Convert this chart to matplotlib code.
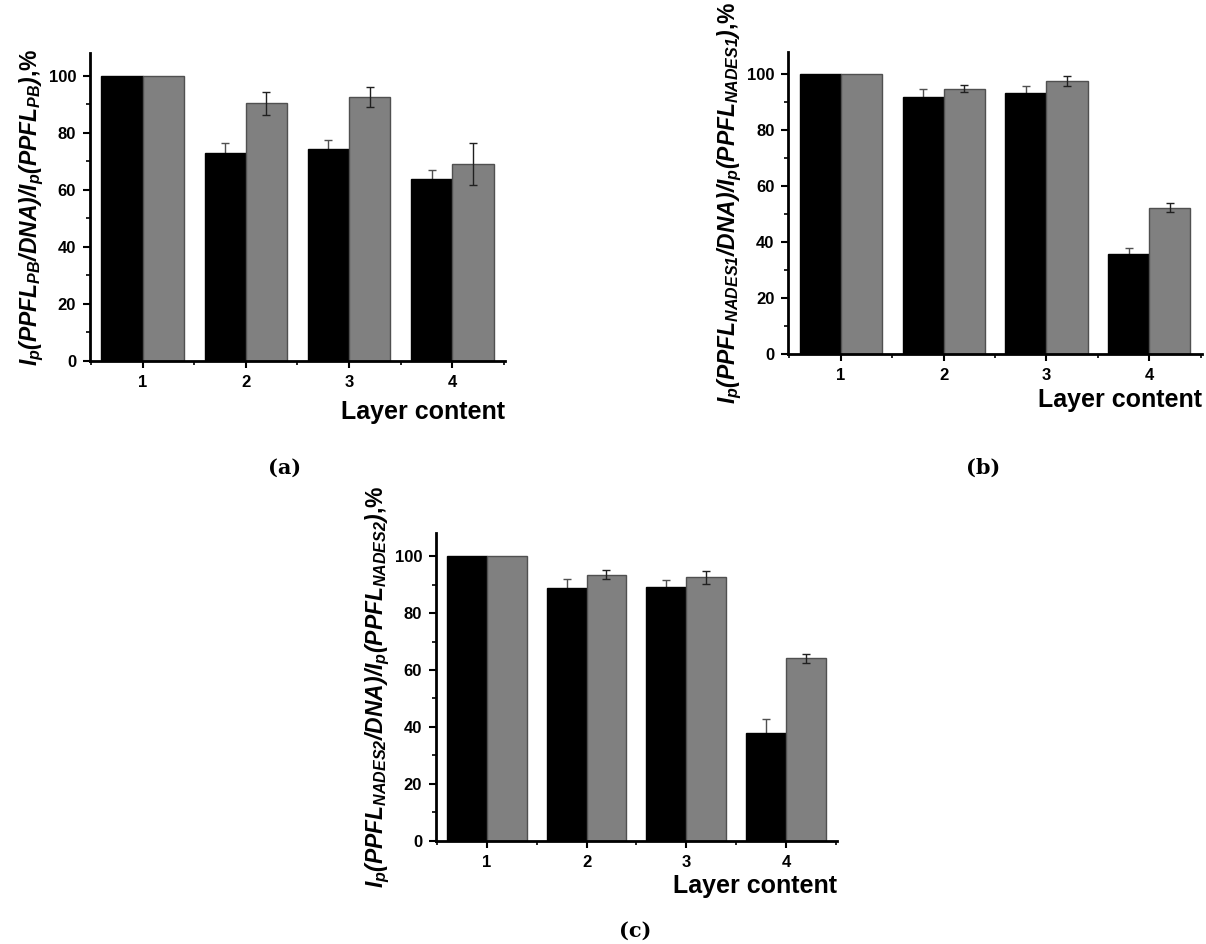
import numpy as np
import matplotlib as mpl
mpl.use('Agg')
import matplotlib.pyplot as plt
import matplotlib.ticker as ticker

######################
## data
######################

groups = [1, 2, 3, 4]

# panel (a)
a_black = [100, 72.8, 74.2, 63.8]
a_black_err = [0, 3.7, 3.4, 3.0]
a_gray = [100, 90.3, 92.4, 69.2]
a_gray_err = [0, 4.1, 3.5, 7.4]

# panel (b)
b_black = [100, 91.9, 93.1, 35.8]
b_black_err = [0, 2.7, 2.6, 2.0]
b_gray = [100, 94.8, 97.5, 52.3]
b_gray_err = [0, 1.3, 1.7, 1.6]

# panel (c)
c_black = [100, 88.8, 89.2, 38.0]
c_black_err = [0, 3.1, 2.5, 4.6]
c_gray = [100, 93.5, 92.5, 64.1]
c_gray_err = [0, 1.7, 2.4, 1.5]

ylabels = [
    r'$I_p(PPFL_{PB}/DNA)/I_p(PPFL_{PB})$,%',
    r'$I_p(PPFL_{NADES1}/DNA)/I_p(PPFL_{NADES1})$,%',
    r'$I_p(PPFL_{NADES2}/DNA)/I_p(PPFL_{NADES2})$,%',
]
captions = ['a', 'b', 'c']

######################
## setup matplotlib
######################

plt.rcParams['font.family'] = ['Liberation Sans', 'DejaVu Sans']
plt.rcParams['font.weight'] = 'bold'
plt.rcParams['mathtext.fontset'] = 'custom'
plt.rcParams['mathtext.rm'] = 'Liberation Sans:italic:bold'
plt.rcParams['mathtext.it'] = 'Liberation Sans:italic:bold'
plt.rcParams['mathtext.bf'] = 'Liberation Sans:italic:bold'

fig = plt.figure(figsize=(12.06, 9.44), dpi=100)

# axes rectangles in figure fraction (left, bottom, width, height)
rects = [
    [0.0746, 0.6176, 0.3441, 0.3263],
    [0.6537, 0.6250, 0.3428, 0.3202],
    [0.3615, 0.1094, 0.3323, 0.3256],
]
xlabel_pads = [7, 3.5, 3.5]
caption_pos = [(0.236, 0.504), (0.815, 0.504), (0.527, 0.014)]

panels = [
    (a_black, a_black_err, a_gray, a_gray_err),
    (b_black, b_black_err, b_gray, b_gray_err),
    (c_black, c_black_err, c_gray, c_gray_err),
]

x = np.array(groups)
w = 0.4

for i, (blk, blk_e, gry, gry_e) in enumerate(panels):
    ax = fig.add_axes(rects[i])
    ax.bar(x - w / 2, blk, width=w, color='black', edgecolor='black', linewidth=1, zorder=2)
    ax.bar(x + w / 2, gry, width=w, color='#808080', edgecolor='#505050', linewidth=1, zorder=2)
    # error bars of black bars sit behind the bars, only the upper half shows
    ax.errorbar(x[1:] - w / 2, blk[1:], yerr=blk_e[1:], fmt='none', ecolor='#505050',
                elinewidth=1, capsize=3, capthick=1, zorder=1)
    ax.errorbar(x[1:] + w / 2, gry[1:], yerr=gry_e[1:], fmt='none', ecolor='#202020',
                elinewidth=1, capsize=3, capthick=1, zorder=3)

    ax.set_xlim(0.49, 4.51)
    ax.set_ylim(0, 108)
    ax.set_xticks(groups)
    ax.set_yticks([0, 20, 40, 60, 80, 100])
    ax.xaxis.set_minor_locator(ticker.FixedLocator([0.5, 1.5, 2.5, 3.5, 4.5]))
    ax.yaxis.set_minor_locator(ticker.MultipleLocator(10))

    for s in ['top', 'right']:
        ax.spines[s].set_visible(False)
    for s in ['left', 'bottom']:
        ax.spines[s].set_linewidth(2)

    ax.tick_params(which='major', direction='out', length=5, width=1.5, labelsize=12, pad=5)
    ax.tick_params(which='minor', direction='out', length=3, width=1.2)
    for lbl in ax.get_xticklabels() + ax.get_yticklabels():
        lbl.set_fontweight('bold')

    ax.set_xlabel('Layer content', fontsize=18, fontweight='bold', loc='right',
                  labelpad=xlabel_pads[i])
    ax.set_ylabel(ylabels[i], fontsize=16.5, fontweight='bold', labelpad=2)

    fig.text(caption_pos[i][0], caption_pos[i][1], '(' + captions[i] + ')',
             fontsize=15, family='DejaVu Serif', ha='center', va='center', fontweight='bold')

plt.savefig('out.png', dpi=100)
